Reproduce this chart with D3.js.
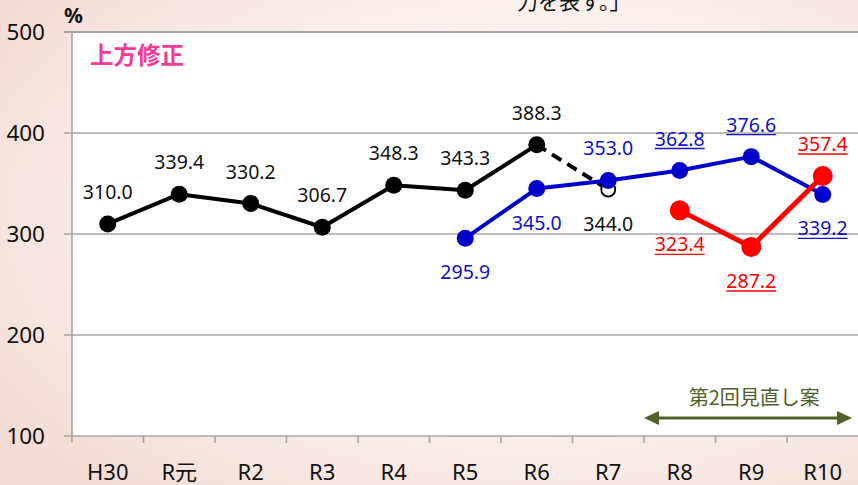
<!DOCTYPE html>
<html><head><meta charset="utf-8">
<script src="https://cdn.jsdelivr.net/npm/d3@7"></script>
<style>html,body{margin:0;padding:0;overflow:hidden;}svg{display:block;}</style>
</head><body>
<script>
const categories = ["H30","R元","R2","R3","R4","R5","R6","R7","R8","R9","R10"];
const actualValues = [310.0,339.4,330.2,306.7,348.3,343.3,388.3,null,null,null,null];
const estimateValues = [null,null,null,null,null,null,388.3,344.0,null,null,null];
const firstReviewValues = [null,null,null,null,null,295.9,345.0,353.0,362.8,376.6,339.2];
const secondReviewValues = [null,null,null,null,null,null,null,null,323.4,287.2,357.4];
const yTicks = [100,200,300,400,500];
const actualLabelSide = ["up","up","up","up","up","up","up"];
const estimateLabelSide = {7:"down"};
const firstLabelSide = {5:"down",6:"down",7:"up",8:"up",9:"up",10:"down"};
const firstUnderline = {8:true,9:true,10:true};
const secondLabelSide = {8:"down",9:"down",10:"up"};
const titleText = "上方修正";
const reviewText = "第2回見直し案";
const topText = "力を表す。」";

const W = 858, H = 485;
const svg = d3.select("body").append("svg").attr("width",W).attr("height",H);
const defs = svg.append("defs");
const grad = defs.append("radialGradient").attr("id","bg").attr("cx","0.62").attr("cy","0.45").attr("r","0.75");
grad.append("stop").attr("offset","0").attr("stop-color","#fdf8f6");
grad.append("stop").attr("offset","0.6").attr("stop-color","#faefeb");
grad.append("stop").attr("offset","1").attr("stop-color","#f3dcd5");
svg.append("rect").attr("width",W).attr("height",H).attr("fill","url(#bg)");

const x = d3.scaleBand().domain(categories).range([72, 72 + 11*71.5]).padding(0);
const y = d3.scaleLinear().domain([100,500]).range([436,32]);
const cx = i => x(categories[i]) + x.bandwidth()/2;

svg.append("rect").attr("x",72).attr("y",y(500)).attr("width",W-72).attr("height",y(100)-y(500)).attr("fill","#ffffff");

svg.append("g").selectAll("line").data(yTicks).join("line")
  .attr("x1",64).attr("x2",W).attr("y1",d=>y(d)).attr("y2",d=>y(d))
  .attr("stroke","#a6a6a6").attr("stroke-width",d=>d===500?2.2:1.6);
svg.append("line").attr("x1",72).attr("x2",72).attr("y1",y(500)).attr("y2",y(100)+7).attr("stroke","#a6a6a6").attr("stroke-width",1.6);
svg.append("g").selectAll("line").data(categories.slice(1)).join("line")
  .attr("x1",d=>x(d)).attr("x2",d=>x(d)).attr("y1",y(100)).attr("y2",y(100)+7)
  .attr("stroke","#a6a6a6").attr("stroke-width",1.6);

svg.append("g").selectAll("text").data(yTicks).join("text")
  .attr("x",45).attr("y",d=>y(d)).attr("dy","0.36em").attr("text-anchor","end")
  .attr("font-family","Noto Sans, sans-serif").attr("font-size",22.5).attr("fill","#111")
  .text(d=>d);
svg.append("g").selectAll("text").data(categories).join("text")
  .attr("x",d=>x(d)+x.bandwidth()/2).attr("y",480).attr("text-anchor","middle")
  .attr("font-family","Noto Sans, Noto Sans CJK JP, sans-serif").attr("font-size",22).attr("fill","#111")
  .text(d=>d);
svg.append("text").attr("x",64).attr("y",23).attr("font-family","Noto Sans, sans-serif").attr("font-size",21).attr("font-weight","bold").attr("fill","#111").text("%");

svg.append("text").attr("x",517).attr("y",9).attr("font-family","Noto Sans CJK JP, sans-serif").attr("font-size",21).attr("fill","#111").text(topText);

svg.append("text").attr("x",90).attr("y",64).attr("font-family","Noto Sans CJK JP, sans-serif").attr("font-size",23.5).attr("font-weight","bold").attr("fill","#f43c97").text(titleText);

const green = "#4f6228";
const ax1 = x("R8"), ax2 = W - 6, ay = 418;
svg.append("line").attr("x1",ax1+14).attr("x2",ax2-14).attr("y1",ay).attr("y2",ay).attr("stroke",green).attr("stroke-width",3);
svg.append("path").attr("d",`M${ax1},${ay} L${ax1+15},${ay-7} L${ax1+15},${ay+7} Z`).attr("fill",green);
svg.append("path").attr("d",`M${ax2},${ay} L${ax2-15},${ay-7} L${ax2-15},${ay+7} Z`).attr("fill",green);
svg.append("text").attr("x",(x("R9")+x.bandwidth()/2)+3).attr("y",405).attr("text-anchor","middle")
  .attr("font-family","Noto Sans CJK JP, sans-serif").attr("font-size",20).attr("fill",green).text(reviewText);

const line = d3.line().defined(d=>d.v!=null).x(d=>cx(d.i)).y(d=>y(d.v));
const toPts = arr => arr.map((v,i)=>({v,i}));

svg.append("path").datum(toPts(actualValues)).attr("d",line).attr("fill","none").attr("stroke","#000").attr("stroke-width",4).attr("stroke-linejoin","round");
svg.append("path").datum(toPts(estimateValues)).attr("d",line).attr("fill","none").attr("stroke","#000").attr("stroke-width",4).attr("stroke-dasharray","11,7");
svg.append("g").selectAll("circle").data(toPts(actualValues).filter(d=>d.v!=null)).join("circle")
  .attr("cx",d=>cx(d.i)).attr("cy",d=>y(d.v)).attr("r",8.5).attr("fill","#000");
svg.append("circle").attr("cx",cx(7)).attr("cy",y(estimateValues[7])).attr("r",7).attr("fill","#fff").attr("stroke","#000").attr("stroke-width",1.8);

const blue = "#0000cc";
svg.append("path").datum(toPts(firstReviewValues)).attr("d",line).attr("fill","none").attr("stroke",blue).attr("stroke-width",4).attr("stroke-linejoin","round");
svg.append("g").selectAll("circle").data(toPts(firstReviewValues).filter(d=>d.v!=null)).join("circle")
  .attr("cx",d=>cx(d.i)).attr("cy",d=>y(d.v)).attr("r",8.5).attr("fill",blue);

const red = "#ff0000";
svg.append("path").datum(toPts(secondReviewValues)).attr("d",line).attr("fill","none").attr("stroke",red).attr("stroke-width",5).attr("stroke-linejoin","round");
svg.append("g").selectAll("circle").data(toPts(secondReviewValues).filter(d=>d.v!=null)).join("circle")
  .attr("cx",d=>cx(d.i)).attr("cy",d=>y(d.v)).attr("r",10).attr("fill",red);

function label(i, v, side, color, underline){
  const ty = y(v) + (side==="up" ? -32 : 34);
  const t = svg.append("text").attr("x",cx(i)).attr("y",ty).attr("dy","0.36em").attr("text-anchor","middle")
    .attr("font-family","Noto Sans, sans-serif").attr("font-size",19.5).attr("fill",color).text(v.toFixed(1));
  if(underline){
    const w = t.node().getComputedTextLength();
    svg.append("line").attr("x1",cx(i)-w/2).attr("x2",cx(i)+w/2).attr("y1",ty+10).attr("y2",ty+10)
      .attr("stroke",color).attr("stroke-width",1.4);
  }
}
actualValues.forEach((v,i)=>{ if(v!=null) label(i,v,actualLabelSide[i],"#111",false); });
Object.keys(estimateLabelSide).forEach(k=>label(+k,estimateValues[k],estimateLabelSide[k],"#111",false));
Object.keys(firstLabelSide).forEach(k=>label(+k,firstReviewValues[k],firstLabelSide[k],"#1010cc",!!firstUnderline[k]));
Object.keys(secondLabelSide).forEach(k=>label(+k,secondReviewValues[k],secondLabelSide[k],red,true));
</script>
</body></html>
